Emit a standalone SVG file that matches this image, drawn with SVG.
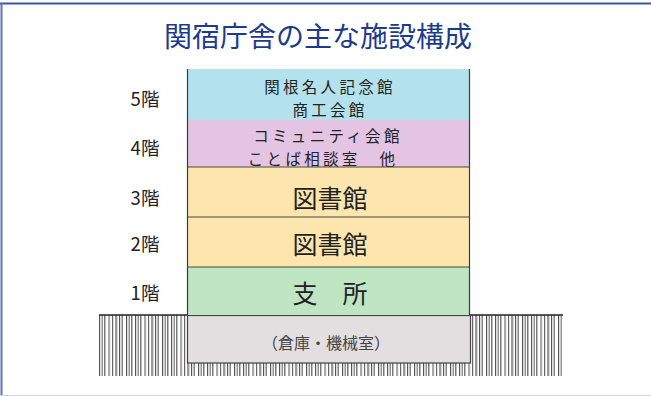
<svg xmlns="http://www.w3.org/2000/svg" width="651" height="396" viewBox="0 0 651 396">
<style>
.lbl{font-family:"Noto Sans CJK JP","Noto Sans",sans-serif;font-size:18.5px;fill:#222;text-anchor:middle;dominant-baseline:central}
.rm{font-family:"Noto Sans CJK JP",sans-serif;font-size:15.5px;letter-spacing:3.3px;fill:#222;text-anchor:middle;dominant-baseline:central}
.big{font-family:"Noto Sans CJK JP",sans-serif;font-size:25px;fill:#222;text-anchor:middle;dominant-baseline:central}
.fl{stroke:#4a4a40;stroke-width:1.2}
</style>
<defs>
<pattern id="hatch" patternUnits="userSpaceOnUse" x="99" y="0" width="36" height="400">
<rect x="0" y="0" width="1.2" height="400" fill="#555"/>
<rect x="2.6" y="0" width="1.2" height="400" fill="#777"/>
<rect x="5.2" y="0" width="1.2" height="400" fill="#555"/>
<rect x="9" y="0" width="2.2" height="400" fill="#aaa"/>
<rect x="13" y="0" width="1.2" height="400" fill="#666"/>
<rect x="16" y="0" width="2.4" height="400" fill="#999"/>
<rect x="20" y="0" width="1.2" height="400" fill="#555"/>
<rect x="22.6" y="0" width="1.2" height="400" fill="#666"/>
<rect x="27" y="0" width="1.2" height="400" fill="#555"/>
<rect x="29.6" y="0" width="1.2" height="400" fill="#777"/>
<rect x="32.2" y="0" width="1.2" height="400" fill="#555"/>
</pattern>
</defs>
<rect width="651" height="396" fill="#fff"/>
<!-- frame -->
<line x1="0" y1="3.5" x2="651" y2="3.5" stroke="#3b55a6" stroke-width="2"/>
<line x1="1.5" y1="3" x2="1.5" y2="396" stroke="#5a70c0" stroke-width="2"/>
<line x1="0" y1="395.5" x2="651" y2="395.5" stroke="#c9d0ea" stroke-width="1"/>
<text x="318" y="35" font-family="'Noto Sans CJK JP',sans-serif" font-size="28" fill="#1c3a8e" text-anchor="middle" dominant-baseline="central">関宿庁舎の主な施設構成</text>
<!-- ground -->
<g id="ground">
<rect x="99" y="315" width="464" height="61" fill="url(#hatch)"/>
<line x1="99" y1="315" x2="188" y2="315" stroke="#222" stroke-width="1.6"/>
<line x1="470" y1="315" x2="563" y2="315" stroke="#222" stroke-width="1.6"/>
</g>
<g id="floor-b1">
<rect x="187.5" y="315.5" width="283" height="47.5" fill="#e3dee0" stroke="#444" stroke-width="1.2"/>
<text x="326" y="342" font-family="'Noto Sans CJK JP',sans-serif" font-size="16" fill="#444" text-anchor="middle" dominant-baseline="central">（倉庫・機械室）</text>
</g>
<g id="floor-5">
<rect x="187.5" y="69" width="282" height="51" fill="#b3e2ee"/>
<text class="rm"><tspan x="330" y="86">関根名人記念館</tspan><tspan x="330" y="108.5">商工会館</tspan></text>
</g>
<g id="floor-4">
<rect x="187.5" y="120" width="282" height="47" fill="#e3c4e2"/>
<text class="rm"><tspan x="328" y="135">コミュニティ会館</tspan><tspan x="323" y="157.5">ことば相談室　他</tspan></text>
</g>
<g id="floor-3">
<rect x="187.5" y="167" width="282" height="50" fill="#fde6ad"/>
<text class="big" x="330" y="197">図書館</text>
</g>
<g id="floor-2">
<rect x="187.5" y="217" width="282" height="50" fill="#fde6ad"/>
<text class="big" x="330" y="243">図書館</text>
</g>
<g id="floor-1">
<rect x="187.5" y="267" width="282" height="48" fill="#bfe6c2"/>
<text class="big" x="330" y="292">支　所</text>
</g>
<g id="lines">
<line class="fl" x1="187.5" y1="167" x2="469.5" y2="167"/>
<line class="fl" x1="187.5" y1="217" x2="469.5" y2="217"/>
<line class="fl" x1="187.5" y1="267" x2="469.5" y2="267"/>
<line x1="187.5" y1="69" x2="187.5" y2="315" stroke="#2f3e4a" stroke-width="1.2"/>
<line x1="469.5" y1="69" x2="469.5" y2="315" stroke="#2f3e4a" stroke-width="1.2"/>
</g>
<g id="labels">
<text class="lbl" x="145" y="98">5階</text>
<text class="lbl" x="145" y="147">4階</text>
<text class="lbl" x="145" y="197">3階</text>
<text class="lbl" x="145" y="243">2階</text>
<text class="lbl" x="145" y="292">1階</text>
</g>
</svg>
